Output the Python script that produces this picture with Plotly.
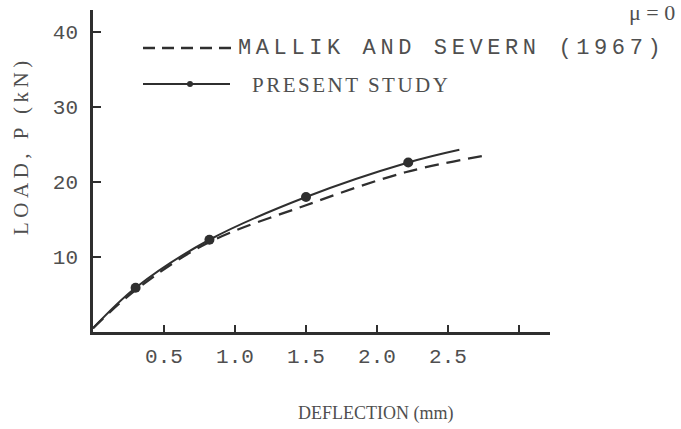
import plotly.graph_objects as go

# ---- data ----
present_x = [0.0, 0.30, 0.82, 1.50, 2.22, 2.58]
present_y = [0.5, 5.9, 12.3, 18.0, 22.6, 24.3]
present_marker = [False, True, True, True, True, False]

mallik_x = [0.0, 0.30, 0.80, 1.50, 2.20, 2.78]
mallik_y = [0.5, 5.6, 11.8, 16.9, 21.3, 23.6]

x_ticks = [0.5, 1.0, 1.5, 2.0, 2.5, 3.0]
x_ticktext = ["0.5", "1.0", "1.5", "2.0", "2.5", ""]
y_ticks = [10, 20, 30, 40]
y_ticktext = ["10", "20", "30", "40"]

legend_names = ["MALLIK AND SEVERN (1967)", "PRESENT STUDY"]

# ---- layout geometry (pixels) ----
W, H = 681, 429
L, R, T, B = 93, 550, 10, 332

def px(X):
    return (X - L) / (R - L)

def py(Y):
    return (B - Y) / (B - T)

LINE = "#2f2f2f"
TXT = "#4f4f4f"

fig = go.Figure()

fig.add_trace(go.Scatter(
    x=mallik_x, y=mallik_y, mode="lines", line_shape="spline",
    line=dict(color=LINE, width=2.3, dash="14px,8px"),
    showlegend=False, hoverinfo="skip"))

fig.add_trace(go.Scatter(
    x=present_x, y=present_y, mode="lines", line_shape="spline",
    line=dict(color=LINE, width=2),
    showlegend=False, hoverinfo="skip"))

fig.add_trace(go.Scatter(
    x=[x for x, m in zip(present_x, present_marker) if m],
    y=[y for y, m in zip(present_y, present_marker) if m],
    mode="markers", marker=dict(color=LINE, size=10),
    showlegend=False, hoverinfo="skip"))

shapes = [
    dict(type="line", xref="paper", yref="paper",
         x0=px(143), x1=px(233), y0=py(48), y1=py(48),
         line=dict(color=LINE, width=2.3, dash="12px,7px")),
    dict(type="line", xref="paper", yref="paper",
         x0=px(143), x1=px(230), y0=py(84), y1=py(84),
         line=dict(color=LINE, width=2)),
    dict(type="circle", xref="paper", yref="paper",
         x0=px(187), x1=px(193), y0=py(81), y1=py(87),
         fillcolor=LINE, line=dict(color=LINE, width=0)),
]

annotations = [
    dict(text='<span style="letter-spacing:4.6px">' + legend_names[0] + '</span>',
         x=px(236), y=py(48), xref="paper", yref="paper",
         xanchor="left", yanchor="middle", showarrow=False,
         font=dict(family="Liberation Mono", size=22, color=TXT)),
    dict(text='<span style="letter-spacing:2.5px">' + legend_names[1] + '</span>',
         x=px(250), y=py(85), xref="paper", yref="paper",
         xanchor="left", yanchor="middle", showarrow=False,
         font=dict(family="Liberation Serif", size=21, color=TXT)),
    dict(text='<span style="letter-spacing:4.5px">LOAD, P (kN)</span>', textangle=-90,
         x=px(21), y=py(146), xref="paper", yref="paper",
         xanchor="center", yanchor="middle", showarrow=False,
         font=dict(family="Liberation Serif", size=21, color=TXT)),
    dict(text="DEFLECTION (mm)",
         x=px(375), y=py(413), xref="paper", yref="paper",
         xanchor="center", yanchor="middle", showarrow=False,
         font=dict(family="Liberation Serif", size=18, color=TXT)),
    dict(text="μ = 0",
         x=px(677), y=py(12), xref="paper", yref="paper",
         xanchor="right", yanchor="middle", showarrow=False,
         font=dict(family="Liberation Serif", size=22, color=TXT)),
]

fig.update_layout(
    width=W, height=H,
    margin=dict(l=L, r=W - R, t=T, b=H - B, pad=0),
    paper_bgcolor="white", plot_bgcolor="white",
    shapes=shapes, annotations=annotations,
    xaxis=dict(range=[0, (R - L) / 142.0], showgrid=False, zeroline=False,
               showline=True, linecolor=LINE, linewidth=2.5,
               tickmode="array", tickvals=x_ticks, ticktext=x_ticktext,
               ticks="inside", ticklen=7, tickwidth=2, tickcolor=LINE,
               ticklabelstandoff=3,
               tickfont=dict(family="Liberation Mono", size=21, color=TXT)),
    yaxis=dict(range=[0, (B - T) / 7.5], showgrid=False, zeroline=False,
               showline=True, linecolor=LINE, linewidth=2.5,
               tickmode="array", tickvals=y_ticks, ticktext=y_ticktext,
               ticks="inside", ticklen=8, tickwidth=2, tickcolor=LINE,
               ticklabelstandoff=8,
               tickfont=dict(family="Liberation Mono", size=21, color=TXT)),
)

fig.write_html("out.html")
